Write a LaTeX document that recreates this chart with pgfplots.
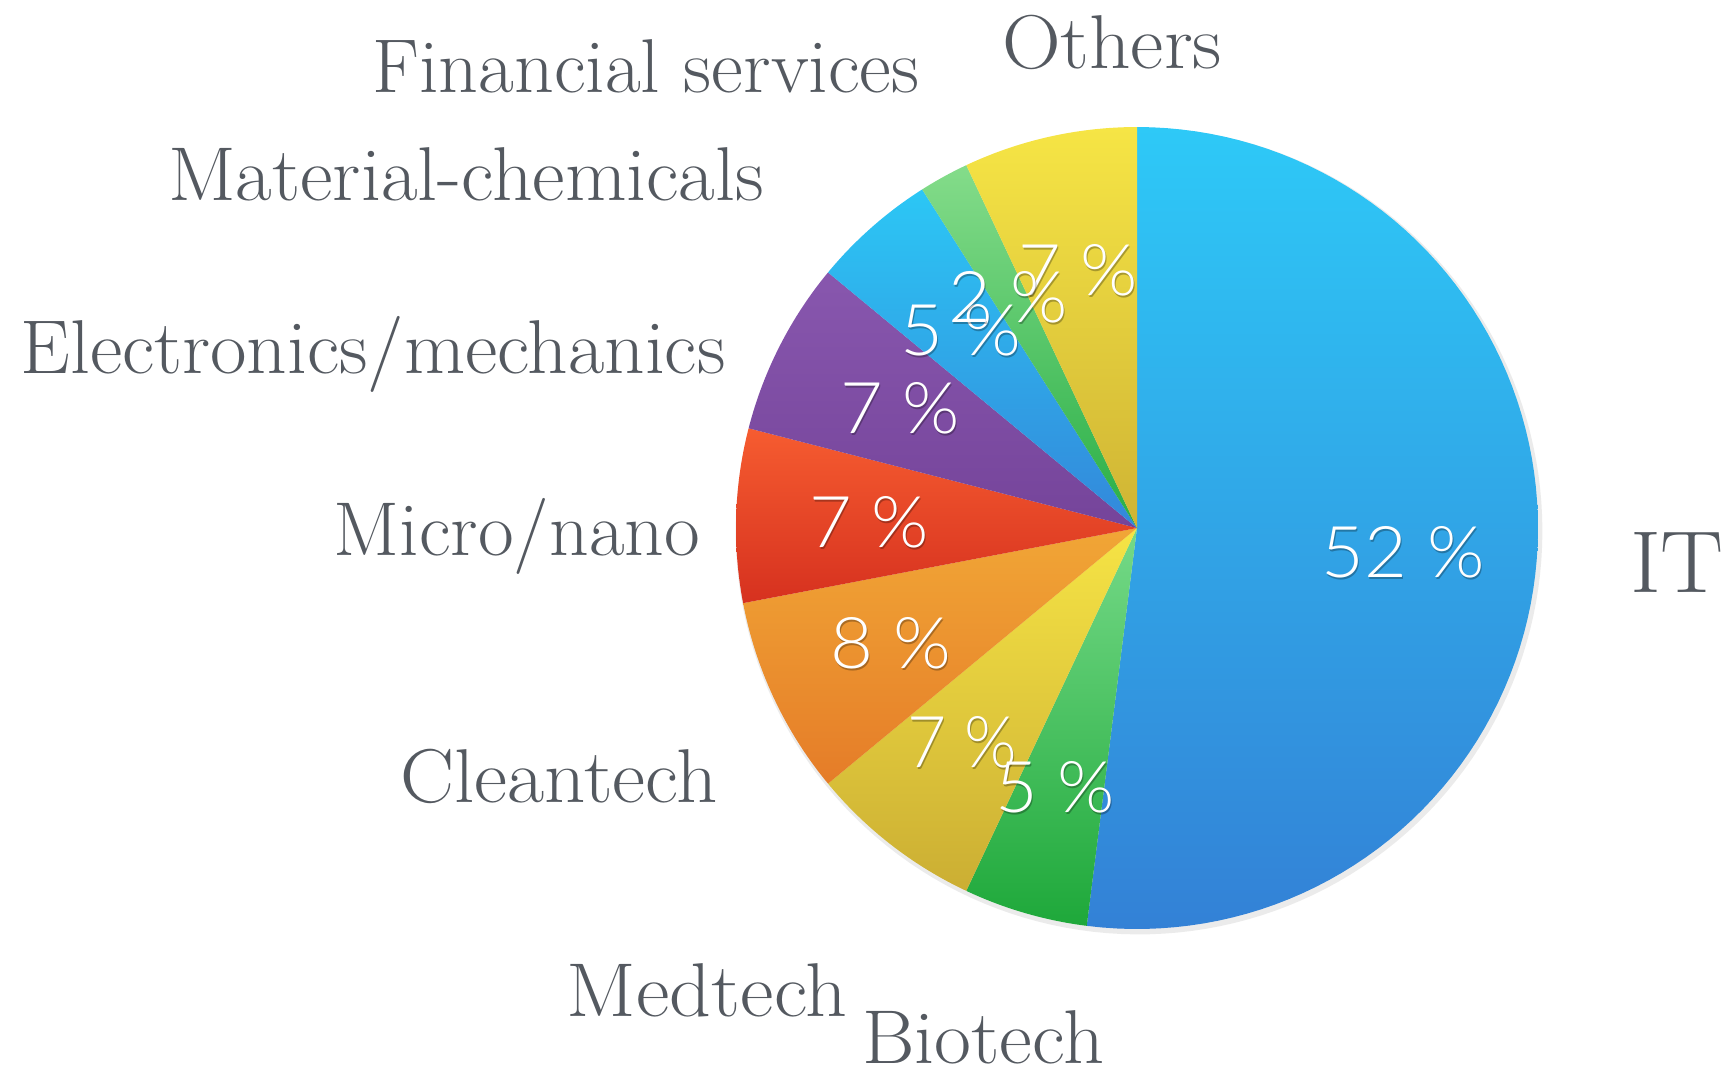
\documentclass[border=0pt]{standalone}
\usepackage{pgfplots}
\pgfplotsset{compat=1.18}
\usepgfplotslibrary{polar}
\usetikzlibrary{calc}
\usepackage{graphicx}
\usepackage{fontspec}
\newfontfamily\pctfont{Lato Light}
\definecolor{lab}{RGB}{84,89,96}
\definecolor{itT}{RGB}{46,201,247}\definecolor{itB}{RGB}{51,129,214}
\definecolor{bioT}{RGB}{118,218,136}\definecolor{bioB}{RGB}{30,168,58}
\definecolor{medT}{RGB}{246,228,69}\definecolor{medB}{RGB}{203,174,51}
\definecolor{clnT}{RGB}{241,166,54}\definecolor{clnB}{RGB}{229,124,40}
\definecolor{micT}{RGB}{246,92,48}\definecolor{micB}{RGB}{214,49,31}
\definecolor{eleT}{RGB}{136,87,174}\definecolor{eleB}{RGB}{117,68,154}
\definecolor{matT}{RGB}{44,199,245}\definecolor{matB}{RGB}{51,135,218}
\definecolor{finT}{RGB}{132,220,138}\definecolor{finB}{RGB}{40,174,70}
\definecolor{othT}{RGB}{246,229,69}\definecolor{othB}{RGB}{207,180,52}
\newlength\px \setlength\px{0.1mm}
% slice: #1 cumulative percent before, #2 percent, #3 top colour, #4 bottom colour
\newcommand\slice[4]{%
  \pgfmathsetmacro\sa{90-3.6*(#1+#2)}%
  \pgfmathsetmacro\sb{90-3.6*(#1)}%
  \addplot[draw=none, top color=#3, bottom color=#4, domain=\sa:\sb, samples=90] {1} -- (axis cs:0,0) -- cycle;%
}
\newcommand\lbl[5]{% x, baseline y, width, size, text
  \node[anchor=base, inner sep=0pt, text=lab] at (#1,#2)
    {\resizebox{#3\px}{\height}{\fontsize{#4}{#4}\selectfont #5}};}
\newcommand\pct[4]{% x, baseline y, width, text
  \node[anchor=base, inner sep=0pt, text=black, opacity=0.28] at ($(#1,#2)+(1.2,2.2)$) {\resizebox{#3\px}{\height}{\pctfont\fontsize{20.3}{24}\selectfont #4}};
  \node[anchor=base, inner sep=0pt, text=white] at (#1,#2) {\resizebox{#3\px}{\height}{\pctfont\fontsize{20.3}{24}\selectfont #4}};}
\begin{document}
\begin{tikzpicture}
\useasboundingbox (0,0) rectangle (173.1mm,-107mm);
\begin{polaraxis}[
  at={(113.7mm,-52.8mm)}, anchor=origin,
  scale only axis, width=80.2mm, height=80.2mm,
  xmin=0, xmax=360, ymin=0, ymax=1,
  hide axis, clip=false]
% faint shadow
\addplot[draw=none, fill=black, opacity=0.08, domain=0:360, samples=180, xshift=0.2mm, yshift=-0.3mm] {1.006} -- cycle;
% IT 52, Biotech 5, Medtech 7, Cleantech 8, Micro/nano 7, Electronics 7, Material 5, Financial 2, Others 7
\slice{0}{52}{itT}{itB}
\slice{52}{5}{bioT}{bioB}
\slice{57}{7}{medT}{medB}
\slice{64}{8}{clnT}{clnB}
\slice{72}{7}{micT}{micB}
\slice{79}{7}{eleT}{eleB}
\slice{86}{5}{matT}{matB}
\slice{91}{2}{finT}{finB}
\slice{93}{7}{othT}{othB}
\end{polaraxis}
\begin{scope}[x=0.1mm,y=-0.1mm]
\lbl{1112}{68}{220}{21.7}{Others}
\lbl{646}{92}{547}{21.7}{Financial services}
\lbl{466}{200}{596}{21.7}{Material-chemicals}
\lbl{373}{373}{705}{21.7}{Electronics/mechanics}
\lbl{517}{555}{366}{21.7}{Micro/nano}
\lbl{559}{802}{317}{21.7}{Cleantech}
\lbl{707}{1016}{280}{21.7}{Medtech}
\lbl{983}{1063}{242}{21.7}{Biotech}
\lbl{1677}{592}{94}{25}{IT}
\pct{1403}{577}{163}{52 \%}
\pct{1078}{295}{120}{7 \%}
\pct{961}{355}{121}{5 \%}
\pct{1008}{322}{120}{2 \%}
\pct{900}{433}{120}{7 \%}
\pct{869}{547}{120}{7 \%}
\pct{891}{668}{121}{8 \%}
\pct{962}{767}{110}{7 \%}
\pct{1055}{812}{120}{5 \%}
\end{scope}
\end{tikzpicture}
\end{document}
